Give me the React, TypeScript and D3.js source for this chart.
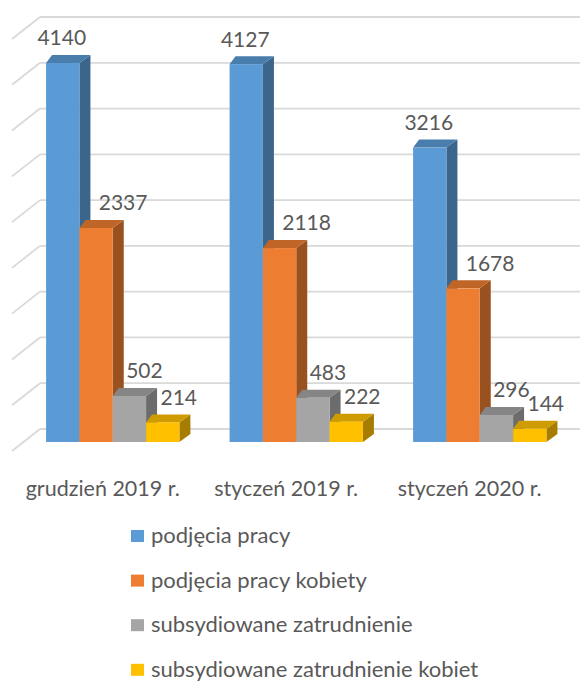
import React from 'react';
import * as d3 from 'd3';

const categories = ['grudzień 2019 r.', 'styczeń 2019 r.', 'styczeń 2020 r.'];
const seriesNames = [
  'podjęcia pracy',
  'podjęcia pracy kobiety',
  'subsydiowane zatrudnienie',
  'subsydiowane zatrudnienie kobiet',
];
const podjecia = [4140, 4127, 3216];
const podjeciaKobiety = [2337, 2118, 1678];
const subsydiowane = [502, 483, 296];
const subsydiowaneKobiet = [214, 222, 144];
const gridTicks = [0, 500, 1000, 1500, 2000, 2500, 3000, 3500, 4000, 4500];

const seriesValues = [podjecia, podjeciaKobiety, subsydiowane, subsydiowaneKobiet];
const colors = ['#5B9BD5', '#ED7D31', '#A5A5A5', '#FFC000'];
// Excel pushes some labels sideways in 3D, roughly per series
const labelDx = [-1, 27, 15, 16];

const W = 580;
const H = 684;
const floorY = 442;
const wallShift = 13;
const depthL = 6;
const depthR = 11;
const depthY = 8;
const font = 'Lato, "Open Sans", sans-serif';
const textColor = '#595959';

const App = () => {
  const y = d3.scaleLinear().domain([0, 4500]).range([floorY, 30]);

  const x = d3.scaleBand()
    .domain(categories)
    .range([21, 571.5])
    .paddingInner(0.2735)
    .paddingOuter(0.1367);

  const inner = d3.scaleBand()
    .domain(seriesNames)
    .range([0, x.bandwidth()]);

  const bw = inner.bandwidth();

  return (
    <svg width={W} height={H} style={{ position: 'absolute', left: 0, top: 0 }}>
      <rect width={W} height={H} fill="#fff" />
      {/* back wall + side wall gridlines */}
      <g stroke="#d9d9d9" strokeWidth={1.8} fill="none">
        {gridTicks.map((t) => {
          const yb = y(t) - wallShift;
          return (
            <g key={t}>
              <line x1={40} x2={W} y1={yb} y2={yb} />
              <line x1={12} x2={40} y1={yb + 22} y2={yb} />
            </g>
          );
        })}
      </g>

      {/* 3D bars */}
      {categories.map((cat, ci) => (
        <g key={cat}>
          {seriesNames.map((s, si) => {
            const v = seriesValues[si][ci];
            const x0 = (x(cat) as number) + (inner(s) as number);
            const x1 = x0 + bw;
            const yt = y(v);
            const base = d3.color(colors[si]) as d3.RGBColor;
            const top = base.darker(0.6).toString();
            const side = base.darker(1.2).toString();
            const topPts = [
              [x0, yt], [x0 + depthL, yt - depthY], [x1 + depthR, yt - depthY], [x1, yt],
            ];
            const sidePts = [
              [x1, yt], [x1 + depthR, yt - depthY], [x1 + depthR, floorY - depthY], [x1, floorY],
            ];
            return (
              <g key={s}>
                <polygon points={sidePts.map((p) => p.join(',')).join(' ')} fill={side} />
                <polygon points={topPts.map((p) => p.join(',')).join(' ')} fill={top} />
                <rect x={x0} y={yt} width={bw} height={floorY - yt} fill={colors[si]} />
              </g>
            );
          })}
        </g>
      ))}

      {/* data labels */}
      <g fontFamily={font} fontSize={21} fill={textColor} textAnchor="middle">
        {categories.map((cat, ci) =>
          seriesNames.map((s, si) => {
            const v = seriesValues[si][ci];
            const cx = (x(cat) as number) + (inner(s) as number) + bw / 2 + labelDx[si];
            return (
              <text key={cat + s} x={cx} y={y(v) - 25} dy="0.35em">
                {v}
              </text>
            );
          })
        )}
      </g>

      {/* category labels */}
      <g fontFamily={font} fontSize={21.5} fill={textColor} textAnchor="middle">
        {categories.map((cat) => (
          <text key={cat} x={(x(cat) as number) + x.bandwidth() / 2 - 10} y={488} dy="0.35em">
            {cat}
          </text>
        ))}
      </g>

      {/* legend */}
      <g fontFamily={font} fontSize={22} fill={textColor}>
        {seriesNames.map((s, i) => {
          const cy = 536 + i * 44.6;
          return (
            <g key={s}>
              <rect x={131} y={cy - 6} width={13} height={12} fill={colors[i]} />
              <text x={151} y={cy} dy="0.32em">{s}</text>
            </g>
          );
        })}
      </g>
    </svg>
  );
};

export default App;
